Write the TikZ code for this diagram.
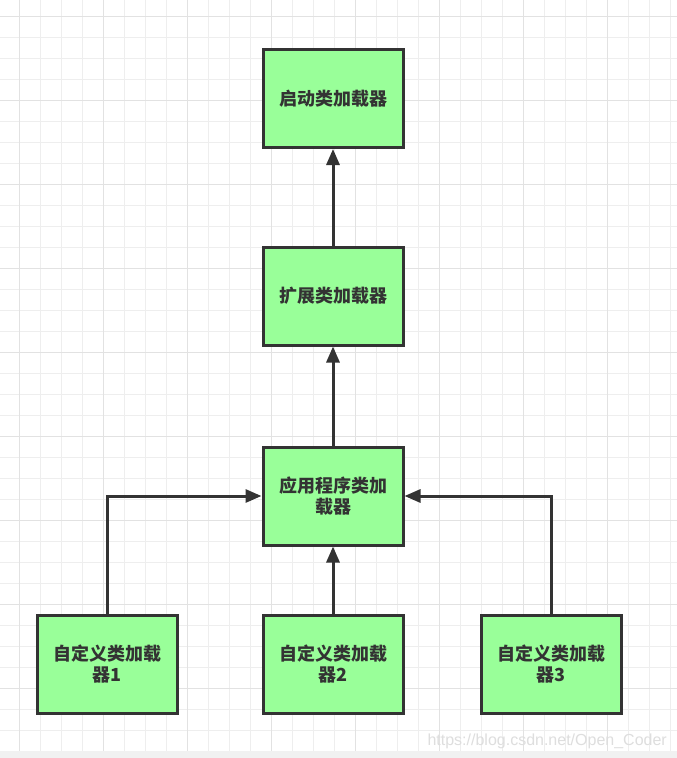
\documentclass[tikz,border=0pt]{standalone}
\usepackage{fontspec}
\setmainfont{Liberation Sans}
\newfontfamily\cjk{Noto Sans CJK SC}
\usetikzlibrary{arrows.meta}
\definecolor{boxgreen}{HTML}{99FF99}
\definecolor{ink}{HTML}{333333}
\definecolor{gridmin}{HTML}{EEEEEE}
\definecolor{gridmaj}{HTML}{E2E2E2}
\definecolor{stripgray}{HTML}{F1F1F1}
\begin{document}
\begin{tikzpicture}[x=1pt,y=-1pt,
	loaderbox/.style={draw=ink,line width=3pt,fill=boxgreen,minimum width=140pt,minimum height=98pt,
		text width=130pt,align=center,inner sep=0pt,text=ink,font=\cjk\bfseries\fontsize{18}{21.5}\selectfont},
	link/.style={draw=ink,line width=3pt,-{Triangle[length=16pt,width=13pt]}},
	gridline/.style={draw=gridmin,line width=1pt},
	gridmajor/.style={draw=gridmaj,line width=1pt}]
			\useasboundingbox (0,0) rectangle (677,758);
			% Background grid
			\fill[white] (0,0) rectangle (677,751);
			\foreach \i in {0,...,31} \draw[gridline] ({19+21*\i},0) -- ({19+21*\i},751);
			\foreach \j in {0,...,34} \draw[gridline] (0,{16+21*\j}) -- (677,{16+21*\j});
			\foreach \i in {0,...,7} \draw[gridmajor] ({19+84*\i},0) -- ({19+84*\i},751);
			\foreach \j in {0,...,8} \draw[gridmajor] (0,{16+84*\j}) -- (677,{16+84*\j});
			\fill[stripgray] (0,751) rectangle (677,758);
			% Loaders
			\node[loaderbox] (boot) at (333,98.5) {启动类加载器};
			\node[loaderbox] (ext) at (333,296) {扩展类加载器};
			\node[loaderbox] (app) at (333,496) {应用程序类加\\载器};
			\node[loaderbox] (cust1) at (107,664) {自定义类加载\\器1};
			\node[loaderbox] (cust2) at (333,664) {自定义类加载\\器2};
			\node[loaderbox] (cust3) at (551,664) {自定义类加载\\器3};
			% Delegation arrows
			\draw[link] (ext) -- (boot);
			\draw[link] (app) -- (ext);
			\draw[link] (cust2) -- (app);
			\draw[link] (cust1) |- (app);
			\draw[link] (cust3) |- (app);
			% Watermark
			\node[anchor=base east,inner sep=0pt,text=black!13,font=\fontsize{16}{16}\selectfont] (mark) at (667,745) {https://blog.csdn.net/Open\_Coder};
\end{tikzpicture}
\end{document}
